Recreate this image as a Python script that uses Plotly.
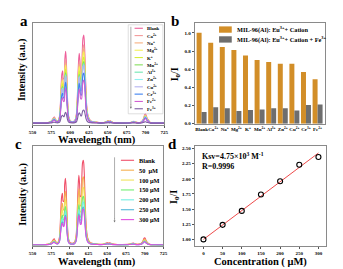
import plotly.graph_objects as go

W, H = 343, 269
SERIF = "Liberation Serif"

# ---------------- data ----------------
wavelength = [550, 560, 570, 574, 576, 578, 579, 580, 582, 584, 586, 587, 588, 589, 590, 591, 592, 593, 594,
              595, 596, 597, 598, 600, 603, 606, 608, 609, 610, 611, 612, 613, 614, 615, 616, 617, 618, 619,
              620, 621, 622, 624, 627, 630, 635, 640, 645, 648, 650, 651, 652, 653, 654, 656, 660, 670, 680,
              683, 685, 687, 690, 694, 696, 698, 699, 700, 701, 702, 703, 704, 705, 707, 710, 715, 725]
blank_a = [0.015, 0.016, 0.02, 0.03, 0.045, 0.07, 0.075, 0.06, 0.04, 0.04, 0.09, 0.2, 0.38, 0.5, 0.53, 0.45,
           0.45, 0.65, 0.72, 0.6, 0.35, 0.17, 0.08, 0.04, 0.03, 0.04, 0.09, 0.18, 0.38, 0.6, 0.7, 0.62, 0.5,
           0.5, 0.7, 0.85, 0.88, 0.78, 0.55, 0.32, 0.18, 0.08, 0.04, 0.03, 0.025, 0.02, 0.022, 0.03, 0.04,
           0.038, 0.032, 0.038, 0.035, 0.025, 0.02, 0.018, 0.022, 0.03, 0.032, 0.025, 0.02, 0.025, 0.04,
           0.075, 0.1, 0.105, 0.09, 0.065, 0.055, 0.045, 0.03, 0.02, 0.016, 0.015, 0.015]
blank_c = [0.015, 0.016, 0.02, 0.03, 0.045, 0.07, 0.075, 0.06, 0.04, 0.04, 0.09, 0.2, 0.38, 0.5, 0.53, 0.45,
           0.45, 0.62, 0.68, 0.58, 0.34, 0.17, 0.08, 0.04, 0.03, 0.04, 0.09, 0.18, 0.38, 0.6, 0.71, 0.62, 0.5,
           0.5, 0.7, 0.84, 0.86, 0.77, 0.55, 0.32, 0.18, 0.08, 0.04, 0.03, 0.025, 0.02, 0.022, 0.03, 0.035,
           0.035, 0.03, 0.035, 0.033, 0.025, 0.02, 0.018, 0.022, 0.03, 0.032, 0.025, 0.02, 0.025, 0.035,
           0.06, 0.08, 0.085, 0.075, 0.055, 0.045, 0.035, 0.028, 0.02, 0.016, 0.015, 0.015]
baseline = 0.015

ion_names = ["Blank", "Ca<sup>2+</sup>", "Na<sup>+</sup>", "Mg<sup>2+</sup>", "K<sup>+</sup>",
             "Mn<sup>2+</sup>", "Al<sup>3+</sup>", "Zn<sup>2+</sup>", "Cu<sup>2+</sup>", "Cr<sup>3+</sup>",
             "Fe<sup>2+</sup>", "Fe<sup>3+</sup>"]
ion_ratio_a = [1.0, 0.89, 0.845, 0.81, 0.75, 0.70, 0.68, 0.66, 0.66, 0.57, 0.49, 0.15]
ion_colors = ["#ee5f9a", "#f39b9b", "#f7b080", "#f5ee5a", "#d6ee3c", "#86e05e", "#6fe6b2", "#8ff0f0",
              "#b4b2f0", "#3f82f0", "#d25fd2", "#7c5ea2"]

cations = ["Blank", "Ca<sup>2+</sup>", "Na<sup>+</sup>", "Mg<sup>2+</sup>", "K<sup>+</sup>",
           "Mn<sup>2+</sup>", "Al<sup>3+</sup>", "Zn<sup>2+</sup>", "Cu<sup>2+</sup>", "Cr<sup>3+</sup>",
           "Fe<sup>2+</sup>"]
ratio_cation = [1.0, 0.89, 0.845, 0.81, 0.75, 0.70, 0.68, 0.66, 0.66, 0.57, 0.49]
ratio_cation_fe = [0.13, 0.18, 0.17, 0.14, 0.15, 0.155, 0.17, 0.17, 0.145, 0.205, 0.21]
bar_names = ["MIL-96(Al): Eu<sup>3+</sup>+ Cation", "MIL-96(Al): Eu<sup>3+</sup>+ Cation + Fe<sup>3+</sup>"]
bar_colors = ["#d28e28", "#6e6e6e"]

conc_names = ["Blank", "50  \u03bcM", "100 \u03bcM", "150 \u03bcM", "200 \u03bcM", "250 \u03bcM", "300 \u03bcM"]
conc_colors = ["#f0506a", "#f5b050", "#f0e35e", "#72ee72", "#72eee2", "#52b8d8", "#e050e0"]

conc = [0, 50, 100, 150, 200, 250, 300]
i0_i = [1.0, 1.24, 1.47, 1.74, 1.96, 2.23, 2.36]
ksv = 4.75e3  # M^-1
fit_x = [0, 300]

# ---------------- helpers ----------------
def px(x):
    return x / W

def py(y):
    return 1 - y / H

fig = go.Figure()
tickfont = dict(family=SERIF, size=5, color="black", weight="bold")
axis_common = dict(showline=True, mirror=True, linecolor="#8a8a8a", linewidth=1, showgrid=False,
                   zeroline=False, ticklen=2, tickwidth=0.8, tickcolor="#555", tickfont=tickfont)

# panel a spectra
for name, r, col in zip(ion_names, ion_ratio_a, ion_colors):
    y = [baseline + r * (v - baseline) for v in blank_a]
    fig.add_trace(go.Scatter(x=wavelength, y=y, mode="lines", line=dict(color=col, width=1.1, shape="spline"),
                             xaxis="x", yaxis="y", showlegend=False))

# panel b bars
for name, vals, col in zip(bar_names, [ratio_cation, ratio_cation_fe], bar_colors):
    fig.add_trace(go.Bar(x=cations, y=vals, marker=dict(color=col, line=dict(width=0)), name=name,
                         xaxis="x2", yaxis="y2", showlegend=False))

# panel c spectra
for name, r, col in zip(conc_names, i0_i, conc_colors):
    y = [baseline + (v - baseline) / r for v in blank_c]
    fig.add_trace(go.Scatter(x=wavelength, y=y, mode="lines", line=dict(color=col, width=1.1, shape="spline"),
                             xaxis="x3", yaxis="y3", showlegend=False))

# panel d
fit_y = [1 + ksv * c * 1e-6 for c in fit_x]
fig.add_trace(go.Scatter(x=fit_x, y=fit_y, mode="lines", line=dict(color="#ee4b4b", width=1),
                         xaxis="x4", yaxis="y4", showlegend=False))
fig.add_trace(go.Scatter(x=conc, y=i0_i, mode="markers",
                         marker=dict(symbol="circle-open", size=5, color="black", line=dict(width=1.1)),
                         xaxis="x4", yaxis="y4", showlegend=False))

fig.update_layout(
    width=W, height=H, margin=dict(l=0, r=0, t=0, b=0),
    paper_bgcolor="white", plot_bgcolor="white",
    barmode="group", bargap=0.14, bargroupgap=0,
    xaxis=dict(domain=[px(21), px(156)], anchor="y", range=[550, 725], tickvals=list(range(550, 726, 25)),
               ticks="outside", **axis_common),
    yaxis=dict(domain=[py(118), py(15)], anchor="x", range=[0, 1.0], showticklabels=False, ticks="",
               **axis_common),
    xaxis2=dict(domain=[px(187), px(320)], anchor="y2", range=[-0.6, 10.6], type="category", ticks="",
                tickangle=0, **axis_common),
    yaxis2=dict(domain=[py(117), py(15)], anchor="x2", range=[0, 1.11], tickvals=[0, 0.2, 0.4, 0.6, 0.8, 1.0],
                tickformat=".1f", ticks="outside", **axis_common),
    xaxis3=dict(domain=[px(21), px(155)], anchor="y3", range=[550, 725], tickvals=list(range(550, 726, 25)),
                ticks="outside", **axis_common),
    yaxis3=dict(domain=[py(241), py(140)], anchor="x3", range=[0, 1.0], showticklabels=False, ticks="",
                **axis_common),
    xaxis4=dict(domain=[px(187), px(322)], anchor="y4", range=[-23, 321], tickvals=conc, ticks="outside",
                **axis_common),
    yaxis4=dict(domain=[py(241), py(140)], anchor="x4", range=[0.886, 2.533],
                tickvals=[1.0, 1.25, 1.5, 1.75, 2.0, 2.25, 2.5], tickformat=".2f", ticks="outside",
                **axis_common),
)

ann = []
shapes = []

def text(x, y, s, size, xanchor="center", angle=0):
    ann.append(dict(x=px(x), y=py(y), xref="paper", yref="paper", text=s, showarrow=False,
                    xanchor=xanchor, yanchor="middle", textangle=angle,
                    font=dict(family=SERIF, size=size, color="black", weight="bold")))

def arrow_down(x, y_tip):
    ann.append(dict(x=px(x), y=py(y_tip), xref="paper", yref="paper", axref="pixel", ayref="pixel",
                    ax=0, ay=-6, text="", showarrow=True, arrowhead=2, arrowsize=0.7, arrowwidth=0.6,
                    arrowcolor="#777"))

# panel letters
text(12, 13, "a", 15)
text(167, 13, "b", 15)
text(7, 138, "c", 15)
text(164, 138, "d", 15)

# axis titles
text(11, 62, "Intensity (a.u.)", 10, angle=-90)
text(87, 133.5, "Wavelength (nm)", 10.5)
text(11, 188, "Intensity (a.u.)", 10, angle=-90)
text(87, 257, "Wavelength (nm)", 10.5)
text(167, 67, "I<sub>0</sub>/I", 10, angle=-90)
text(167, 191, "I<sub>0</sub>/I", 10, angle=-90)
text(254, 257, "Concentration ( \u03bcM)", 10.5)

# panel d notes
text(193, 150, "Ksv=4.75\u00d710<sup>3</sup> M<sup>-1</sup>", 8, xanchor="left")
text(193, 160.5, "R=0.9996", 8, xanchor="left")

# panel a legend
shapes.append(dict(type="rect", xref="paper", yref="paper", x0=px(119), x1=px(154.5), y0=py(107), y1=py(17),
                   line=dict(color="#c8c8c8", width=0.6), fillcolor="rgba(0,0,0,0)"))
shapes.append(dict(type="line", xref="paper", yref="paper", x0=px(121.7), x1=px(121.7), y0=py(19), y1=py(98),
                   line=dict(color="#777", width=0.6)))
arrow_down(121.7, 102)
for i, (name, col) in enumerate(zip(ion_names, ion_colors)):
    yy = 20.5 + i * 7.4
    shapes.append(dict(type="line", xref="paper", yref="paper", x0=px(125.5), x1=px(134), y0=py(yy), y1=py(yy),
                       line=dict(color=col, width=1.1)))
    text(136, yy, name, 4.8, xanchor="left")

# panel b legend
for i, (name, col) in enumerate(zip(bar_names, bar_colors)):
    yy = 21.8 + i * 10
    shapes.append(dict(type="rect", xref="paper", yref="paper", x0=px(212), x1=px(225), y0=py(yy + 3.2),
                       y1=py(yy - 3.2), line=dict(width=0), fillcolor=col))
    text(228.5, yy, name, 6.3, xanchor="left")

# panel c legend
shapes.append(dict(type="line", xref="paper", yref="paper", x0=px(105), x1=px(105), y0=py(151), y1=py(213),
                   line=dict(color="#777", width=0.6)))
arrow_down(105, 217)
for i, (name, col) in enumerate(zip(conc_names, conc_colors)):
    yy = 154 + i * 10
    shapes.append(dict(type="line", xref="paper", yref="paper", x0=px(111.5), x1=px(125), y0=py(yy), y1=py(yy),
                       line=dict(color=col, width=1.1)))
    text(128, yy, name.replace("  ", "&nbsp;&nbsp;"), 6.3, xanchor="left")

fig.update_layout(annotations=ann, shapes=shapes)
fig.write_html("out.html")
